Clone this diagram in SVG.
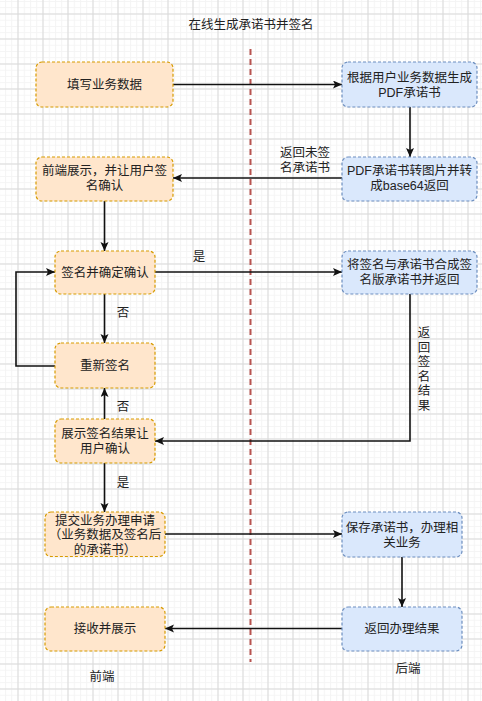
<svg xmlns="http://www.w3.org/2000/svg" width="482" height="701" viewBox="0 0 482 701">
<defs>
<pattern id="minor" patternUnits="userSpaceOnUse" x="17.5" y="13.5" width="6.25" height="6.25">
<path d="M0,0.5 H6.25 M0.5,0 V6.25" fill="none" stroke="#f4f4f4" stroke-width="1"/>
</pattern>
<pattern id="major" patternUnits="userSpaceOnUse" x="17.5" y="13.5" width="25" height="25">
<path d="M0,0.5 H25 M0.5,0 V25" fill="none" stroke="#d9d9d9" stroke-width="1"/>
</pattern>
<marker id="arr" markerUnits="userSpaceOnUse" markerWidth="12" markerHeight="10" refX="9" refY="4" orient="auto">
<path d="M0,0 L9,4 L0,8 L2,4 z" fill="#111"/>
</marker>
<style>
.fe rect{fill:#ffe6cc;stroke:#d79b00;stroke-width:1.2;stroke-dasharray:3 2}
.be rect{fill:#dae8fc;stroke:#6c8ebf;stroke-width:1.2;stroke-dasharray:3 2}
text{font-family:"Liberation Sans","Noto Sans CJK SC",sans-serif;font-size:12.5px;fill:#222;text-anchor:middle;dominant-baseline:central}
#edges path{fill:none;stroke:#111;stroke-width:1.6;marker-end:url(#arr)}
</style>
</defs>
<rect width="482" height="701" fill="#fff"/>
<rect width="482" height="701" fill="url(#minor)"/>
<rect width="482" height="701" fill="url(#major)"/>
<text x="251" y="25">在线生成承诺书并签名</text>
<line x1="250.5" y1="49" x2="250.5" y2="662" stroke="#b85450" stroke-width="2" stroke-dasharray="6 4"/>

<g id="edges">
<path d="M173,84.5 H342"/>
<path d="M410,107 V157"/>
<path d="M342,178 H173"/>
<path d="M104.5,201 V251"/>
<path d="M155,272 H342"/>
<path d="M104.5,294 V343"/>
<path d="M55,366 H16 V272 H55"/>
<path d="M104.5,419 V388"/>
<path d="M410,294 V441 H155"/>
<path d="M104.5,463 V512"/>
<path d="M165,534 H342"/>
<path d="M402,557 V607"/>
<path d="M342,628.5 H165"/>
</g>
<g id="edge-labels">
<text x="305" y="153">返回未签<tspan x="305" dy="14.5">名承诺书</tspan></text>
<text x="199" y="257">是</text>
<text x="123" y="313">否</text>
<text x="123" y="407">否</text>
<text x="123" y="483">是</text>
<text x="424" y="333">返<tspan x="424" dy="14.6">回</tspan><tspan x="424" dy="14.6">签</tspan><tspan x="424" dy="14.6">名</tspan><tspan x="424" dy="14.6">结</tspan><tspan x="424" dy="14.6">果</tspan></text>
</g>

<g id="n1" class="fe"><rect x="36" y="62" width="137" height="45" rx="6"/><text x="104.5" y="84.5">填写业务数据</text></g>
<g id="n2" class="be"><rect x="342" y="62" width="135" height="45" rx="6"/><text x="409.5" y="78">根据用户业务数据生成<tspan x="409.5" dy="14.5">PDF承诺书</tspan></text></g>
<g id="n3" class="be"><rect x="342" y="157" width="135" height="44" rx="6"/><text x="409.5" y="171">PDF承诺书转图片并转<tspan x="409.5" dy="14.5">成base64返回</tspan></text></g>
<g id="n4" class="fe"><rect x="36" y="157" width="137" height="44" rx="6"/><text x="104.5" y="171">前端展示，并让用户签<tspan x="104.5" dy="14.5">名确认</tspan></text></g>
<g id="n5" class="fe"><rect x="55" y="251" width="100" height="43" rx="6"/><text x="105" y="272.5">签名并确定确认</text></g>
<g id="n6" class="be"><rect x="342" y="251" width="135" height="43" rx="6"/><text x="409.5" y="265">将签名与承诺书合成签<tspan x="409.5" dy="14.5">名版承诺书并返回</tspan></text></g>
<g id="n7" class="fe"><rect x="55" y="343" width="100" height="45" rx="6"/><text x="105" y="366">重新签名</text></g>
<g id="n8" class="fe"><rect x="55" y="419" width="100" height="44" rx="6"/><text x="105" y="434">展示签名结果让<tspan x="105" dy="14.5">用户确认</tspan></text></g>
<g id="n9" class="fe"><rect x="45" y="512" width="120" height="44.5" rx="6"/><text x="105" y="520.5">提交业务办理申请<tspan x="105" dy="14.5">（业务数据及签名后</tspan><tspan x="105" dy="14.5">的承诺书）</tspan></text></g>
<g id="n10" class="be"><rect x="342" y="512" width="120" height="45" rx="6"/><text x="402" y="528">保存承诺书，办理相<tspan x="402" dy="14.5">关业务</tspan></text></g>
<g id="n11" class="fe"><rect x="45" y="607" width="120" height="44" rx="6"/><text x="105" y="628.5">接收并展示</text></g>
<g id="n12" class="be"><rect x="342" y="607" width="120" height="44" rx="6"/><text x="402" y="628.5">返回办理结果</text></g>

<text x="102" y="677">前端</text>
<text x="408" y="669">后端</text>
</svg>
